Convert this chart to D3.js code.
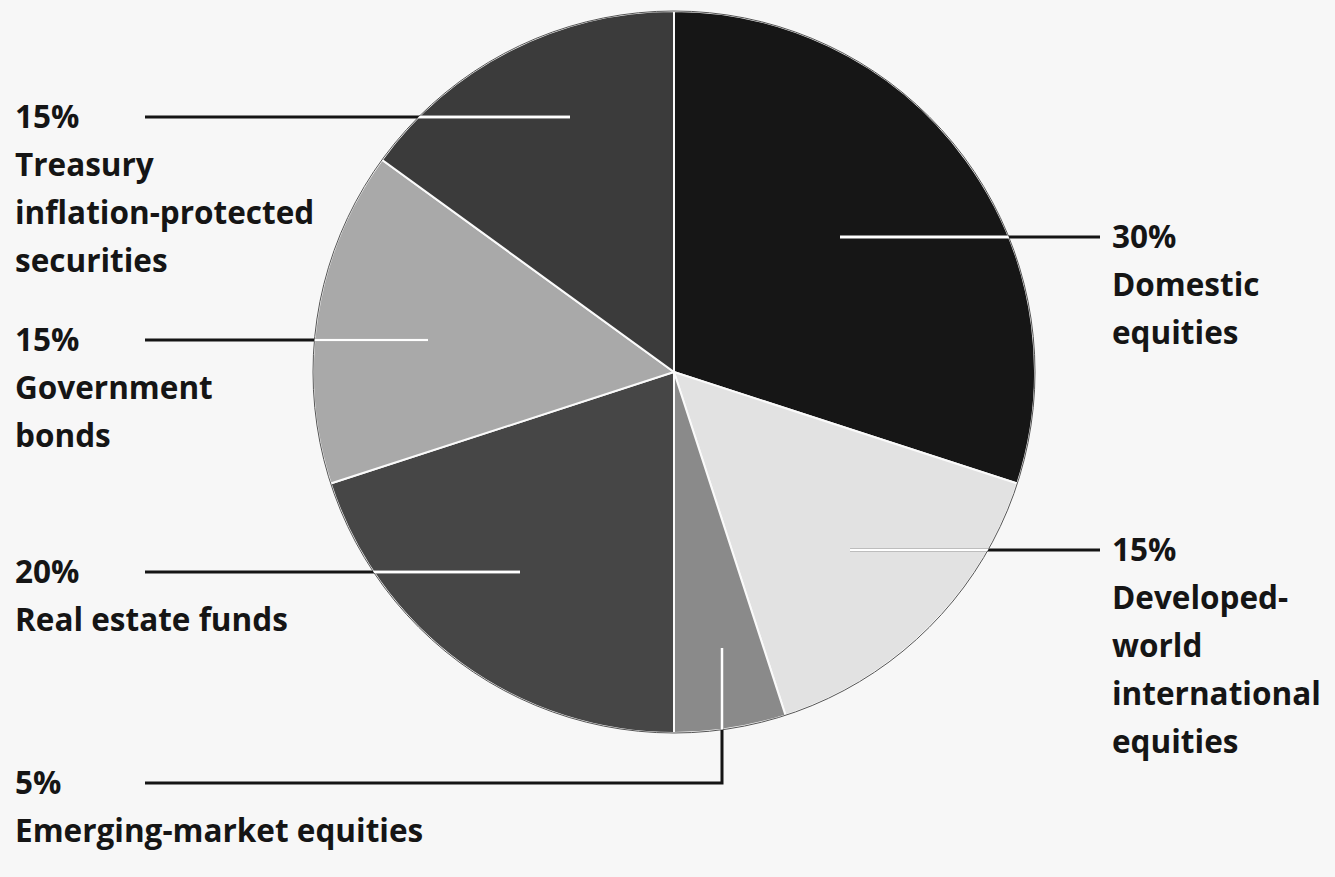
<!DOCTYPE html>
<html>
<head>
<meta charset="utf-8">
<script src="https://cdn.jsdelivr.net/npm/d3@7"></script>
<style>
  html, body { margin: 0; padding: 0; background: #f7f7f7; }
  svg { display: block; }
  text { font-family: "Open Sans", sans-serif; font-weight: 700; fill: #151515; }
</style>
</head>
<body>
<div id="chart"></div>
<script>
// slice data, clockwise from 12 o'clock
const categories = [
  "Domestic equities",
  "Developed-world international equities",
  "Emerging-market equities",
  "Real estate funds",
  "Government bonds",
  "Treasury inflation-protected securities"
];
const shares = [30, 15, 5, 20, 15, 15];
const percentLabels = ["30%", "15%", "5%", "20%", "15%", "15%"];
// label text broken into lines as in the print
const labelLines = [
  ["Domestic", "equities"],
  ["Developed-", "world", "international", "equities"],
  ["Emerging-market equities"],
  ["Real estate funds"],
  ["Government", "bonds"],
  ["Treasury", "inflation-protected", "securities"]
];
const fills = ["#161616", "#e2e2e2", "#8a8a8a", "#464646", "#a9a9a9", "#3b3b3b"];

const width = 1335, height = 877;
const cx = 674, cy = 372, radius = 361;
const lineH = 48, fontSize = 31.5;

//leader layout: label anchor (tx, ty), inner end (ix, iy), optional elbow
const layout = [
  { side: "right", tx: 1112, ty: 237, ix: 840, iy: 237 },
  { side: "right", tx: 1112, ty: 550, ix: 850, iy: 550 },
  { side: "left", tx: 15, ty: 783, ix: 722, iy: 648, elbow: true },
  { side: "left", tx: 15, ty: 572, ix: 520, iy: 572 },
  { side: "left", tx: 15, ty: 340, ix: 428, iy: 340 },
  { side: "left", tx: 15, ty: 117, ix: 570, iy: 117 }
];

const svg = d3.select("#chart").append("svg")
  .attr("width", width)
  .attr("height", height)
  .style("background", "#f7f7f7");

const pie = d3.pie().sort(null).value(d => d)(shares);
const arc = d3.arc().innerRadius(0).outerRadius(radius);

const g = svg.append("g").attr("transform", `translate(${cx},${cy})`);

g.selectAll("path.slice")
  .data(pie)
  .join("path")
  .attr("class", "slice")
  .attr("d", arc)
  .attr("fill", (d, i) => fills[i])
  .attr("stroke", "#fafafa")
  .attr("stroke-width", 2);

g.append("circle")
  .attr("r", radius)
  .attr("fill", "none")
  .attr("stroke", "#555")
  .attr("stroke-width", 1);

//clip for the white part of leaders inside the pie
svg.append("clipPath").attr("id", "pieClip")
  .append("circle").attr("cx", cx).attr("cy", cy).attr("r", radius);

function leaderPoints(L) {
  const outerX = L.side === "left" ? 145 : 1100;
  if (L.elbow) {
    return [[L.ix, L.iy], [L.ix, L.ty], [outerX, L.ty]];
  }
  return [[L.ix, L.iy], [outerX, L.ty]];
}

const lineGen = d3.line();

svg.append("g").selectAll("path")
  .data(layout)
  .join("path")
  .attr("d", L => lineGen(leaderPoints(L)))
  .attr("fill", "none")
  .attr("stroke", "#151515")
  .attr("stroke-width", 3);

svg.append("g").attr("clip-path", "url(#pieClip)")
  .selectAll("path")
  .data(layout)
  .join("path")
  .attr("d", L => lineGen(leaderPoints(L)))
  .attr("fill", "none")
  .attr("stroke", "#ffffff")
  .attr("stroke-width", 3);

//labels
const labels = svg.append("g").selectAll("text")
  .data(layout)
  .join("text")
  .attr("font-size", fontSize)
  .attr("x", L => L.tx)
  .attr("y", L => L.ty);

labels.each(function (L, i) {
  const t = d3.select(this);
  const lines = [percentLabels[i]].concat(labelLines[i]);
  lines.forEach((s, k) => {
    t.append("tspan")
      .attr("x", L.tx)
      .attr("dy", k === 0 ? "0.35em" : lineH)
      .text(s);
  });
});
</script>
</body>
</html>
